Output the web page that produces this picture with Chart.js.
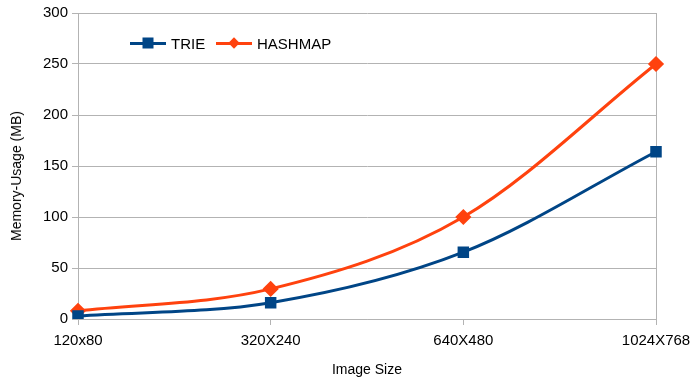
<!DOCTYPE html>
<html>
<head>
<meta charset="utf-8">
<script src="https://cdn.jsdelivr.net/npm/chart.js@4/dist/chart.umd.min.js"></script>
<style>
  html, body { margin: 0; padding: 0; background: #fff; }
  .wrap { position: relative; width: 692px; height: 380px; }
  .legend { position: absolute; top: 34px; font: 15px "Liberation Sans", Arial, sans-serif; color: #000; display: flex; align-items: center; height: 18px; }
  .sym { position: relative; width: 36px; height: 3px; margin-right: 5px; }
  .sym i { position: absolute; top: 50%; left: 50%; transform: translate(-50%, -50%); }
  .ytitle { position: absolute; left: 16px; top: 176px; transform: translate(-50%, -50%) rotate(-90deg); font: 14px "Liberation Sans", Arial, sans-serif; color: #000; white-space: nowrap; }
</style>
</head>
<body>
<div class="wrap">
  <canvas id="line-chart" width="692" height="380"></canvas>
  <div class="ytitle">Memory-Usage (MB)</div>
  <div class="legend" style="left:130px">
    <span class="sym" style="background:#004586"><i style="width:11px;height:11px;background:#004586"></i></span>TRIE
  </div>
  <div class="legend" style="left:216px">
    <span class="sym" style="background:#ff420e"><i style="width:8px;height:8px;background:#ff420e;transform:translate(-50%,-50%) rotate(45deg)"></i></span>HASHMAP
  </div>
</div>
<script>
// valores
const categorias = ['120x80', '320X240', '640X480', '1024X768'];
const trie = [3, 16, 65.5, 164];
const hashmap = [8, 29.5, 100, 250];
const ticksY = [0, 50, 100, 150, 200, 250, 300];

const grade = '#b3b3b3';
const fonte = "'Liberation Sans', Arial, sans-serif";

new Chart(document.getElementById('line-chart'), {
  type: 'line',
  data: {
    labels: categorias,
    datasets: [{
      label: 'TRIE',
      data: trie,
      borderColor: '#004586',
      backgroundColor: '#004586',
      borderWidth: 3,
      pointStyle: 'rect',
      pointRadius: 6,
      cubicInterpolationMode: 'monotone',
      fill: false
    }, {
      label: 'HASHMAP',
      data: hashmap,
      borderColor: '#ff420e',
      backgroundColor: '#ff420e',
      borderWidth: 3,
      pointStyle: 'rectRot',
      pointRadius: 6,
      cubicInterpolationMode: 'monotone',
      fill: false
    }]
  },
  options: {
    responsive: false,
    animation: false,
    layout: { padding: { top: 12, right: 36, left: 0, bottom: 0 } },
    plugins: { legend: { display: false }, tooltip: { enabled: false } },
    scales: {
      x: {
        offset: false,
        afterFit: (s) => { s.height = 61; s.paddingLeft = 0; s.paddingRight = 0; },
        border: { color: grade },
        grid: {
          color: (c) => (c.index === categorias.length - 1 ? grade : 'transparent'),
          tickColor: grade,
          tickLength: 6
        },
        ticks: { color: '#000', font: { family: fonte, size: 15 }, padding: 7, maxRotation: 0 },
        title: { display: true, text: 'Image Size', color: '#000', font: { family: fonte, size: 14 }, padding: { top: 0, bottom: 1 } }
      },
      y: {
        min: 0,
        max: 300,
        afterFit: (s) => { s.width = 78; },
        afterBuildTicks: (s) => { s.ticks = ticksY.map(v => ({ value: v })); },
        border: { color: grade },
        grid: { color: grade, tickColor: grade, tickLength: 6 },
        ticks: { color: '#000', font: { family: fonte, size: 15 }, padding: 4 }
      }
    }
  }
});
</script>
</body>
</html>
